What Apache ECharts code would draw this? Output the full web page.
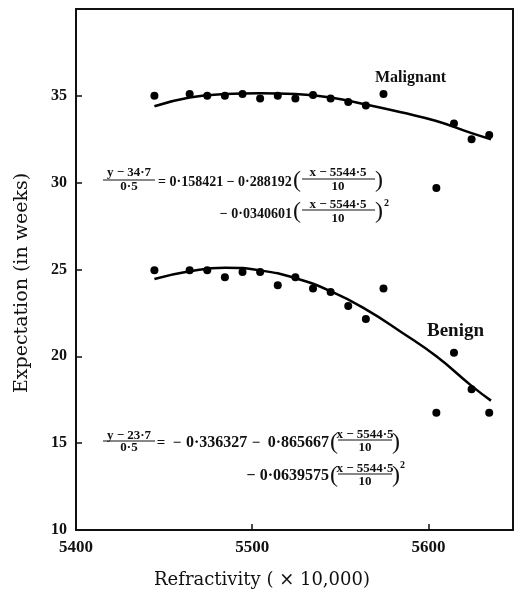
<!DOCTYPE html>
<html>
<head>
<meta charset="utf-8">
<script src="https://cdn.jsdelivr.net/npm/echarts@6/dist/echarts.min.js"></script>
<style>
html,body{margin:0;padding:0;background:#fff;}
#chart{width:517px;height:596px;}
</style>
</head>
<body>
<div id="chart"></div>
<script>
// ---- data ----
var refractivity = [5444.5, 5464.5, 5474.5, 5484.5, 5494.5, 5504.5, 5514.5, 5524.5, 5534.5, 5544.5, 5554.5, 5564.5, 5574.5, 5604.5, 5614.5, 5624.5, 5634.5];
var malignantY = [35.0, 35.1, 35.0, 35.0, 35.1, 34.85, 35.0, 34.85, 35.05, 34.85, 34.65, 34.45, 35.1, 29.7, 33.4, 32.5, 32.75];
var benignY = [24.95, 24.95, 24.95, 24.55, 24.85, 24.85, 24.1, 24.55, 23.9, 23.7, 22.9, 22.15, 23.9, 16.75, 20.2, 18.1, 16.75];

var curveX = [5444.5, 5464.5, 5484.5, 5504.5, 5524.5, 5544.5, 5564.5, 5584.5, 5604.5, 5624.5, 5635.5];
var malignantCurveY = [34.4, 34.9, 35.1, 35.15, 35.1, 34.9, 34.5, 34.05, 33.55, 32.85, 32.5];
var benignCurveY = [24.45, 24.9, 25.1, 24.95, 24.5, 23.75, 22.7, 21.4, 20.0, 18.3, 17.45];

var xTickLabels = [5400, 5500, 5600];
var yTickLabels = [10, 15, 20, 25, 30, 35];
var seriesNames = ['Malignant', 'Benign'];

function pairs(xs, ys) { return xs.map(function (x, i) { return [x, ys[i]]; }); }

// ---- equation annotation helpers ----
var SERIF = '"Liberation Serif", "Times New Roman", serif';
function txt(x, y, s, size, align, weight, extra) {
  var o = {
    type: 'text', x: x, y: y, silent: true,
    style: {
      text: s, fill: '#111', fontFamily: SERIF, fontSize: size,
      fontWeight: weight || 'bold',
      align: align || 'left', textAlign: align || 'left',
      verticalAlign: 'middle', textVerticalAlign: 'middle'
    }
  };
  if (extra) for (var k in extra) o[k] = extra[k];
  return o;
}
function bar(x1, x2, y) {
  return { type: 'line', silent: true, shape: { x1: x1, y1: y, x2: x2, y2: y }, style: { stroke: '#111', lineWidth: 1 } };
}
function frac(cx, yNum, yBar, yDen, num, den, x1, x2, size) {
  return [txt(cx, yNum, num, size, 'center'), bar(x1, x2, yBar), txt(cx, yDen, den, size, 'center')];
}

var g = [];
// Equation 1 (malignant)
g = g.concat(frac(129, 173, 180, 187, 'y − 34·7', '0·5', 103, 155, 13));
g.push(txt(158, 182, '= 0·158421 − 0·288192', 14));
g.push(txt(297, 181, '(', 24, 'center', 'normal'));
g = g.concat(frac(338, 173, 179, 187, 'x − 5544·5', '10', 302, 375, 13));
g.push(txt(379, 181, ')', 24, 'center', 'normal'));
g.push(txt(292, 214, '− 0·0340601', 14, 'right'));
g.push(txt(297, 212, '(', 24, 'center', 'normal'));
g = g.concat(frac(338, 205, 210, 219, 'x − 5544·5', '10', 302, 375, 13));
g.push(txt(379, 212, ')', 24, 'center', 'normal'));
g.push(txt(384, 203, '2', 10));
// Equation 2 (benign)
g = g.concat(frac(129, 436, 441, 448, 'y − 23·7', '0·5', 103, 155, 13));
g.push(txt(161, 443, '=', 15, 'center'));
g.push(txt(177, 443, '−', 15, 'center'));
g.push(txt(186, 443, '0·336327', 16));
g.push(txt(256, 443, '−', 15, 'center'));
g.push(txt(329, 443, '0·865667', 16, 'right'));
g.push(txt(334, 443, '(', 24, 'center', 'normal'));
g = g.concat(frac(365, 435, 440, 448, 'x − 5544·5', '10', 338, 392, 13));
g.push(txt(396, 443, ')', 24, 'center', 'normal'));
g.push(txt(329, 476, '− 0·0639575', 16, 'right'));
g.push(txt(334, 476, '(', 24, 'center', 'normal'));
g = g.concat(frac(365, 469, 474, 482, 'x − 5544·5', '10', 338, 392, 13));
g.push(txt(396, 476, ')', 24, 'center', 'normal'));
g.push(txt(400, 465, '2', 10));
// Series labels
g.push(txt(375, 78, seriesNames[0], 16));
g.push(txt(427, 331, seriesNames[1], 19));
// Axis titles
g.push({
  type: 'text', x: 22, y: 283, rotation: Math.PI / 2, silent: true,
  style: { text: 'Expectation (in weeks)', fill: '#111', fontFamily: '"DejaVu Serif", serif', fontSize: 19,
    align: 'center', textAlign: 'center', verticalAlign: 'middle', textVerticalAlign: 'middle' }
});
g.push({
  type: 'text', x: 262, y: 580, silent: true,
  style: { text: 'Refractivity ( × 10,000)', fill: '#111', fontFamily: '"DejaVu Serif", serif', fontSize: 18,
    align: 'center', textAlign: 'center', verticalAlign: 'middle', textVerticalAlign: 'middle' }
});

var chart = echarts.init(document.getElementById('chart'), null, { renderer: 'canvas' });
chart.setOption({
  animation: false,
  backgroundColor: '#fff',
  grid: { left: 76, right: 4, top: 9, bottom: 66, show: true, borderColor: '#111', borderWidth: 2, backgroundColor: 'transparent' },
  xAxis: {
    type: 'value', min: 5400, max: 5648, interval: 100,
    axisLine: { show: false },
    axisTick: { show: true, inside: true, length: 6, lineStyle: { color: '#111', width: 1.5 } },
    splitLine: { show: false },
    axisLabel: {
      margin: 9, color: '#111', fontFamily: SERIF, fontSize: 17, fontWeight: 'bold',
      formatter: function (v) { return xTickLabels.indexOf(v) >= 0 ? String(v) : ''; }
    }
  },
  yAxis: {
    type: 'value', min: 10, max: 40, interval: 5,
    axisLine: { show: false },
    axisTick: { show: true, inside: true, length: 6, lineStyle: { color: '#111', width: 1.5 } },
    splitLine: { show: false },
    axisLabel: {
      margin: 9, color: '#111', fontFamily: SERIF, fontSize: 16, fontWeight: 'bold',
      formatter: function (v) { return yTickLabels.indexOf(v) >= 0 ? String(v) : ''; }
    }
  },
  series: [
    { name: seriesNames[0], type: 'scatter', data: pairs(refractivity, malignantY), symbol: 'circle', symbolSize: 8,
      itemStyle: { color: '#000', opacity: 1 }, z: 3 },
    { name: seriesNames[1], type: 'scatter', data: pairs(refractivity, benignY), symbol: 'circle', symbolSize: 8,
      itemStyle: { color: '#000', opacity: 1 }, z: 3 },
    { name: seriesNames[0] + ' fit', type: 'line', data: pairs(curveX, malignantCurveY), smooth: true, showSymbol: false,
      lineStyle: { color: '#000', width: 2.5 }, z: 2 },
    { name: seriesNames[1] + ' fit', type: 'line', data: pairs(curveX, benignCurveY), smooth: true, showSymbol: false,
      lineStyle: { color: '#000', width: 2.5 }, z: 2 }
  ],
  graphic: g
});
</script>
</body>
</html>
